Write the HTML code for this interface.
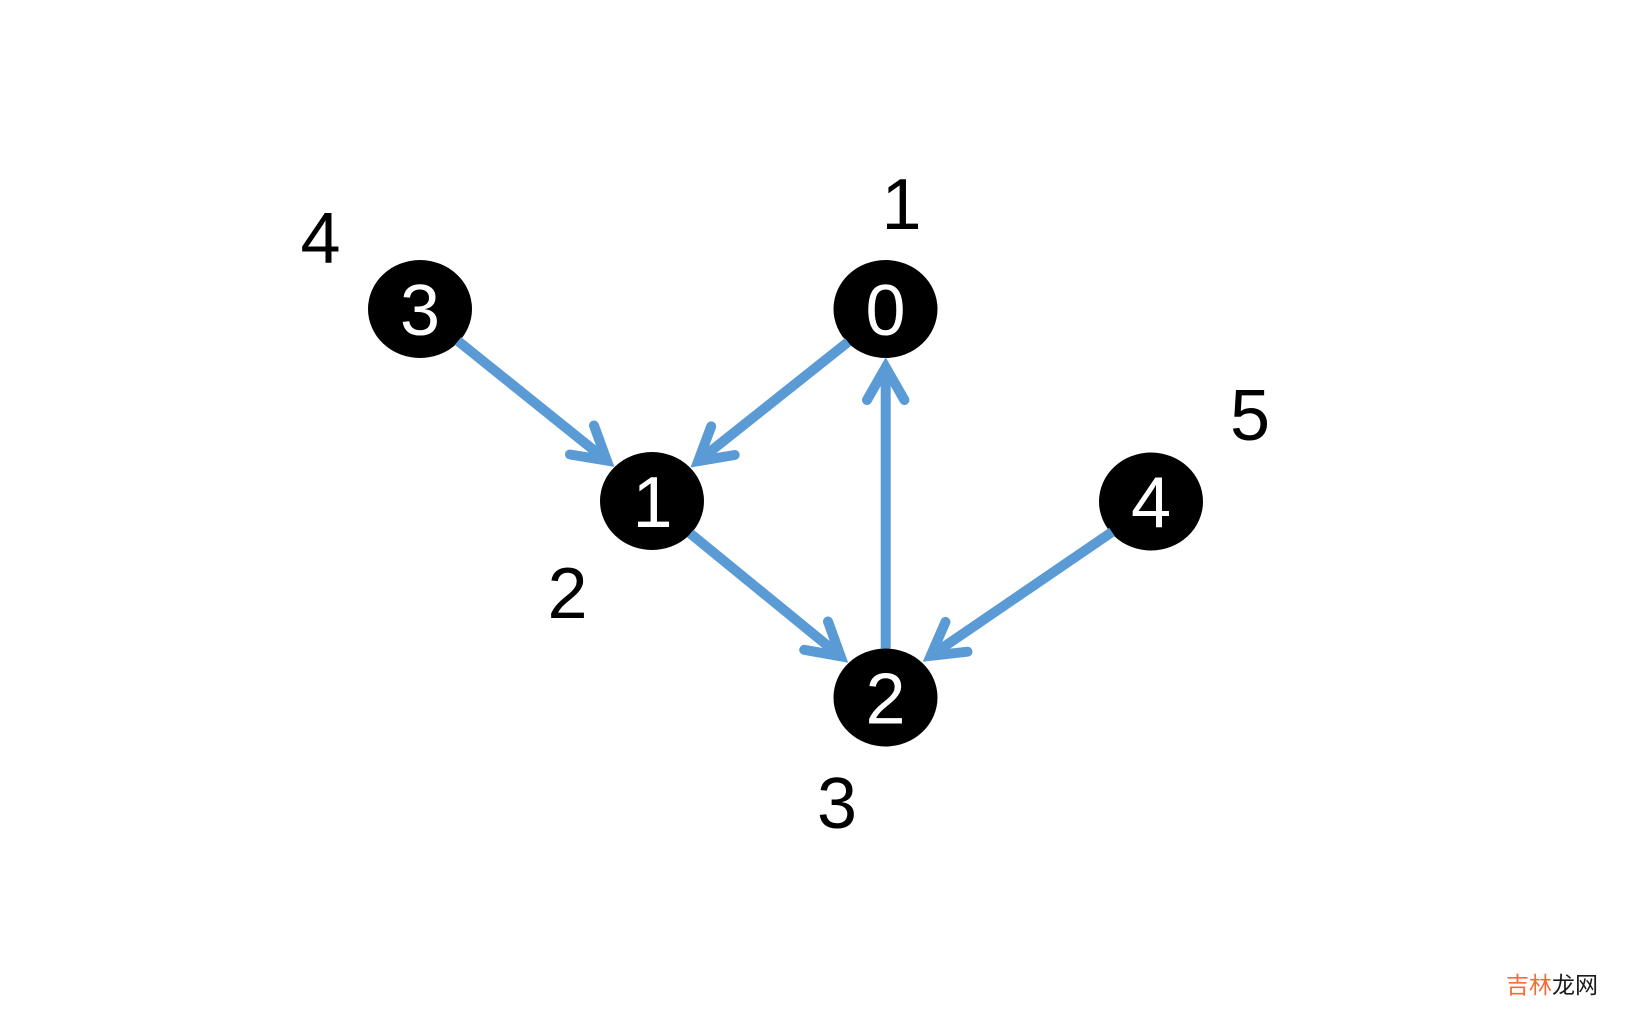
<!DOCTYPE html>
<html>
<head>
<meta charset="utf-8">
<style>
  html, body { margin: 0; padding: 0; background: #ffffff; }
  body { width: 1640px; height: 1020px; overflow: hidden; }
  svg { display: block; }
  .lbl { font-family: "Liberation Sans", Arial, sans-serif; font-size: 72px; fill: #000; text-anchor: middle; }
  .nl { font-family: "Liberation Sans", Arial, sans-serif; font-size: 72px; fill: #fff; text-anchor: middle; }
  .wm { font-family: "Liberation Sans", "Noto Sans CJK SC", sans-serif; font-size: 23px; }
</style>
</head>
<body>
<svg width="1640" height="1020" viewBox="0 0 1640 1020" xmlns="http://www.w3.org/2000/svg">
  <rect x="0" y="0" width="1640" height="1020" fill="#ffffff"/>

  <!-- Nodes -->
  <ellipse cx="420" cy="309" rx="52" ry="49" fill="#000"/>
  <ellipse cx="885.5" cy="309" rx="52" ry="49" fill="#000"/>
  <ellipse cx="652" cy="501" rx="52" ry="49" fill="#000"/>
  <ellipse cx="1151" cy="501.5" rx="52" ry="49" fill="#000"/>
  <ellipse cx="885.5" cy="697.5" rx="52" ry="49" fill="#000"/>

  <!-- Edges -->
  <g stroke="#5B9BD5" stroke-width="10" fill="none">
    <!-- 3 -> 1 -->
    <line x1="458" y1="341" x2="606.8" y2="460.6" stroke-linecap="butt"/>
    <polyline points="594,425.5 606.8,460.6 570,454.5" stroke-linejoin="miter" stroke-linecap="round"/>
    <!-- 0 -> 1 -->
    <line x1="848" y1="342" x2="698.2" y2="461.1" stroke-linecap="butt"/>
    <polyline points="711.2,426.4 698.2,461.1 734.7,455" stroke-linejoin="miter" stroke-linecap="round"/>
    <!-- 1 -> 2 -->
    <line x1="690.3" y1="533.5" x2="840.6" y2="656.3" stroke-linecap="butt"/>
    <polyline points="828,621.5 840.6,656.3 804.2,649.8" stroke-linejoin="miter" stroke-linecap="round"/>
    <!-- 4 -> 2 -->
    <line x1="1112" y1="532" x2="930.7" y2="655.8" stroke-linecap="butt"/>
    <polyline points="945.5,621.9 930.7,655.8 967.5,651.7" stroke-linejoin="miter" stroke-linecap="round"/>
    <!-- 2 -> 0 -->
    <line x1="885.7" y1="648.5" x2="885.7" y2="367.3" stroke-linecap="butt"/>
    <polyline points="867,400 885.7,367.3 904.4,400" stroke-linejoin="miter" stroke-linecap="round"/>
  </g>

  <!-- Node labels -->
  <text class="nl" x="420" y="335">3</text>
  <text class="nl" x="885.5" y="335">0</text>
  <text class="nl" x="652.5" y="527">1</text>
  <text class="nl" x="1151" y="527.5">4</text>
  <text class="nl" x="885.5" y="723.3">2</text>

  <!-- Outside labels -->
  <text class="lbl" x="320.5" y="263">4</text>
  <text class="lbl" x="901.5" y="229">1</text>
  <text class="lbl" x="1250" y="440">5</text>
  <text class="lbl" x="567.5" y="618">2</text>
  <text class="lbl" x="837" y="828">3</text>

  <!-- Watermark -->
  <text class="wm" x="1506" y="993"><tspan fill="#f26b3a">吉林</tspan><tspan fill="#1a1a1a">龙网</tspan></text>
</svg>
</body>
</html>
